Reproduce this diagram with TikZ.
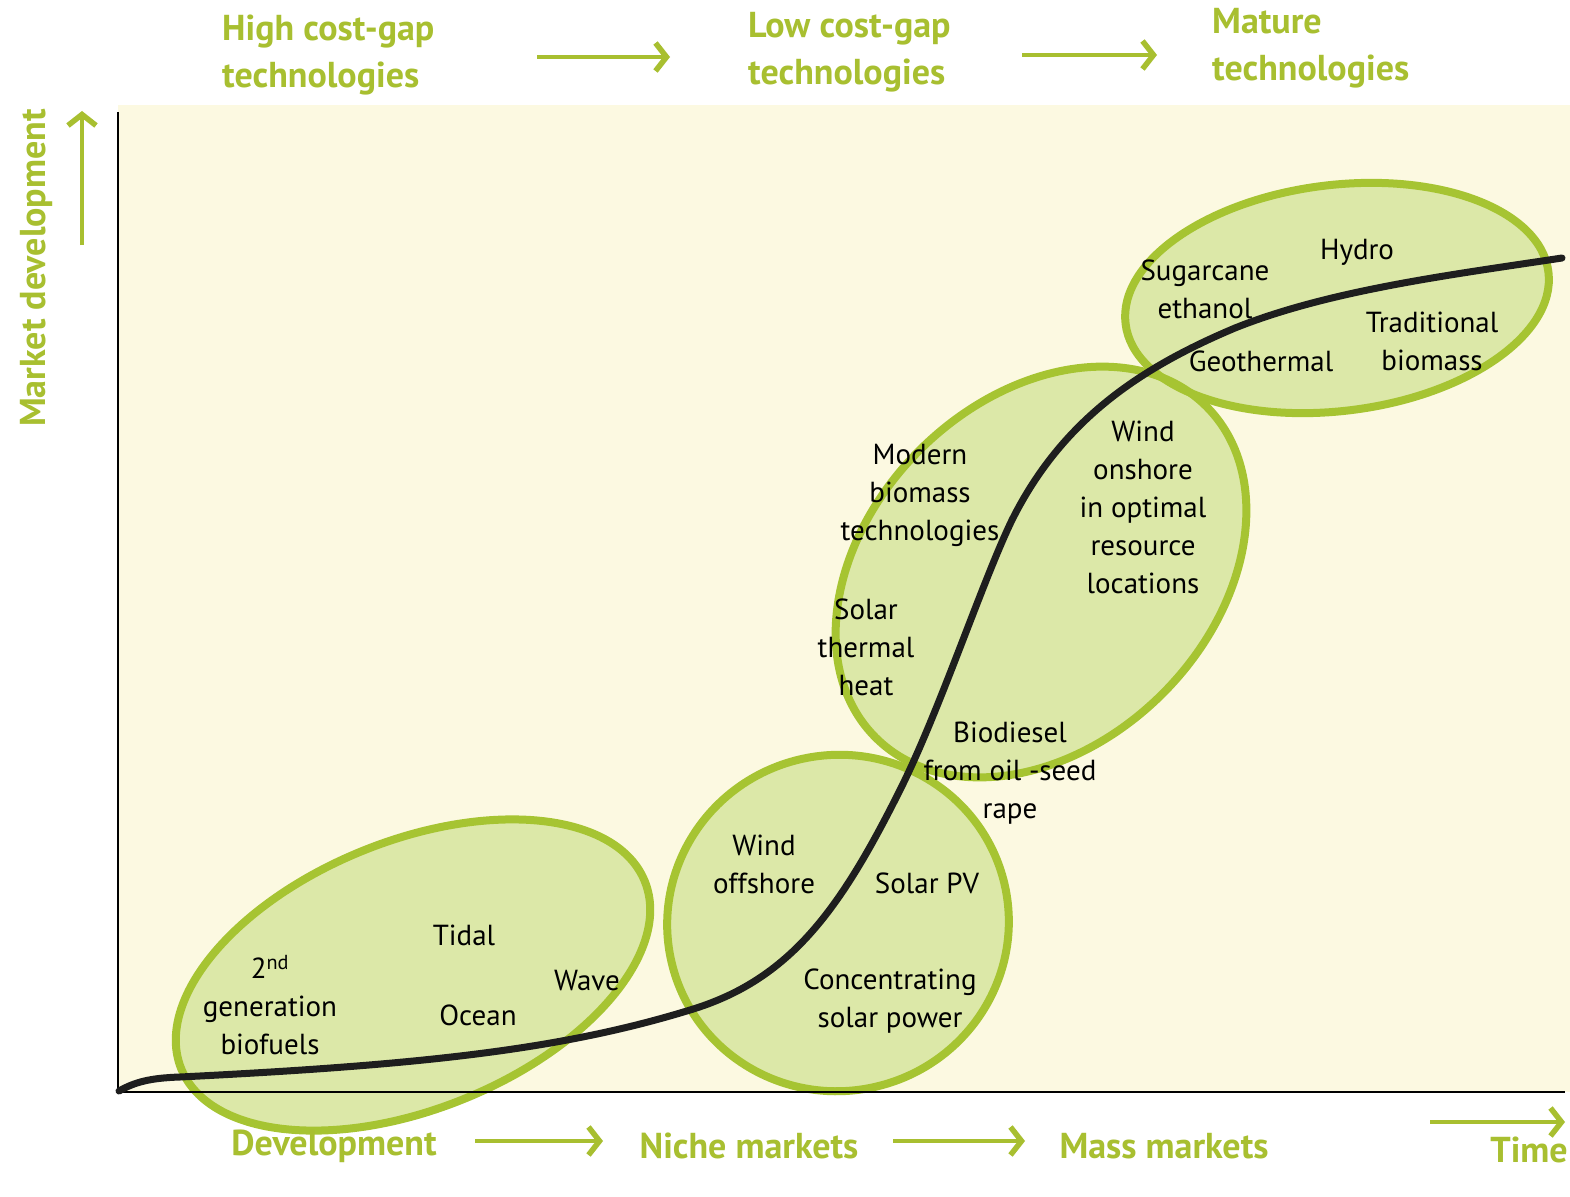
\documentclass[tikz,border=0pt]{standalone}
\usepackage{fontspec}
\setmainfont{PT Sans}
\usetikzlibrary{arrows.meta}
\definecolor{bg}{HTML}{FCF9E1}
\definecolor{efill}{HTML}{DCE8A8}
\definecolor{estroke}{HTML}{A6C432}
\definecolor{hgreen}{HTML}{A8BF30}
\definecolor{curvecol}{HTML}{1E1E1E}
\tikzset{
  lbl/.style={font=\fontsize{29}{38}\selectfont, align=center, text=black, inner sep=0pt},
  hdr/.style={font=\bfseries\fontsize{36}{47}\selectfont, text=hgreen, align=left, inner sep=0pt},
  ftr/.style={font=\bfseries\fontsize{36}{40}\selectfont, text=hgreen, inner sep=0pt},
  garrow/.style={draw=hgreen, line width=4pt, -{Straight Barb[length=11pt, width=28pt, line width=5.5pt]}},
  blobfill/.style={fill=efill},
  blobline/.style={draw=estroke, line width=8pt},
  axisline/.style={draw=black, line width=2pt}
}
\begin{document}
\begin{tikzpicture}[x=1pt,y=-1pt]
\useasboundingbox (0,0) rectangle (1570,1196);
\fill[white] (0,0) rectangle (1570,1196);
\fill[bg] (118,105) rectangle (1570,1092);

% ellipse fills
\begin{scope}[shift={(413,975)}, rotate=22] \path[blobfill] (0,0) ellipse [x radius=250, y radius=134]; \end{scope}
\begin{scope}[shift={(838,923)}, rotate=15] \path[blobfill] (0,0) ellipse [x radius=171, y radius=168]; \end{scope}
\begin{scope}[shift={(1041,572)}, rotate=45] \path[blobfill] (0,0) ellipse [x radius=234, y radius=172]; \end{scope}
\begin{scope}[shift={(1337,298)}, rotate=7] \path[blobfill] (0,0) ellipse [x radius=213, y radius=113]; \end{scope}
% ellipse outlines
\begin{scope}[shift={(413,975)}, rotate=22] \path[blobline] (0,0) ellipse [x radius=250, y radius=134]; \end{scope}
\begin{scope}[shift={(838,923)}, rotate=15] \path[blobline] (0,0) ellipse [x radius=171, y radius=168]; \end{scope}
\begin{scope}[shift={(1041,572)}, rotate=45] \path[blobline] (0,0) ellipse [x radius=234, y radius=172]; \end{scope}
\begin{scope}[shift={(1337,298)}, rotate=7] \path[blobline] (0,0) ellipse [x radius=213, y radius=113]; \end{scope}

% axes
\coordinate (origin) at (118,1092);
\coordinate (ytop) at (118,112);
\coordinate (xend) at (1565,1092);
\draw[axisline] (ytop) -- (origin) -- (xend);

% S-curve
\coordinate (c0) at (119,1091);
\coordinate (c1) at (180,1077);
\coordinate (c2) at (690,1010);
\coordinate (c3) at (900,790);
\coordinate (c4) at (1012,520);
\coordinate (c5) at (1235,328);
\coordinate (c6) at (1562,258);
\draw[curvecol, line width=7pt, line cap=round]
  (c0) .. controls (135,1082) and (150,1078) .. (c1)
       .. controls (420,1065) and (560,1050) .. (c2)
       .. controls (790,980) and (840,910) .. (c3)
       .. controls (940,710) and (982,582) .. (c4)
       .. controls (1062,420) and (1140,368) .. (c5)
       .. controls (1330,290) and (1450,275) .. (c6);

% header texts
\node[hdr, anchor=west] (hc) at (222,55) {High cost-gap\\technologies};
\node[hdr, anchor=west] (lc) at (748,52) {Low cost-gap\\technologies};
\node[hdr, anchor=west] (mt) at (1212,48) {Mature\\technologies};
\coordinate (a1s) at (537,57); \coordinate (a1e) at (670,57);
\coordinate (a2s) at (1022,55); \coordinate (a2e) at (1157,55);
\draw[garrow] (a1s) -- (a1e);
\draw[garrow] (a2s) -- (a2e);

% y-axis label
\node[ftr, rotate=90] (md) at (36,268) {Market development};
\coordinate (v1s) at (82,245); \coordinate (v1e) at (82,111);
\draw[garrow] (v1s) -- (v1e);

% footer texts
\node[ftr] (dev) at (334,1146) {Development};
\node[ftr] (nm) at (749,1146) {Niche markets};
\node[ftr] (mm) at (1164,1146) {Mass markets};
\node[ftr] (tm) at (1529,1150) {Time};
\coordinate (b1s) at (475,1141); \coordinate (b1e) at (603,1141);
\coordinate (b2s) at (893,1141); \coordinate (b2e) at (1025,1141);
\coordinate (b3s) at (1430,1122); \coordinate (b3e) at (1565,1122);
\draw[garrow] (b1s) -- (b1e);
\draw[garrow] (b2s) -- (b2e);
\draw[garrow] (b3s) -- (b3e);

% technology labels
\node[lbl] (gen2) at (270,1005) {2\textsuperscript{nd}\\generation\\biofuels};
\node[lbl] (tidal) at (464,935) {Tidal};
\node[lbl] (ocean) at (478,1015) {Ocean};
\node[lbl] (wave) at (587,981) {Wave};
\node[lbl] (woff) at (764,864) {Wind\\offshore};
\node[lbl] (spv) at (927,883) {Solar PV};
\node[lbl] (csp) at (890,1001) {Concentrating\\solar power};
\node[lbl] (bio) at (1010,773) {Biodiesel\\from oil -seed\\rape};
\node[lbl] (sth) at (866,647) {Solar\\thermal\\heat};
\node[lbl] (mbt) at (920,495) {Modern\\biomass\\technologies};
\node[lbl] (won) at (1143,507) {Wind\\onshore\\in optimal\\resource\\locations};
\node[lbl] (sug) at (1205,289) {Sugarcane\\ethanol};
\node[lbl] (hyd) at (1357,252) {Hydro};
\node[lbl] (trb) at (1432,341) {Traditional\\biomass};
\node[lbl] (geo) at (1261,361) {Geothermal};
\end{tikzpicture}
\end{document}
